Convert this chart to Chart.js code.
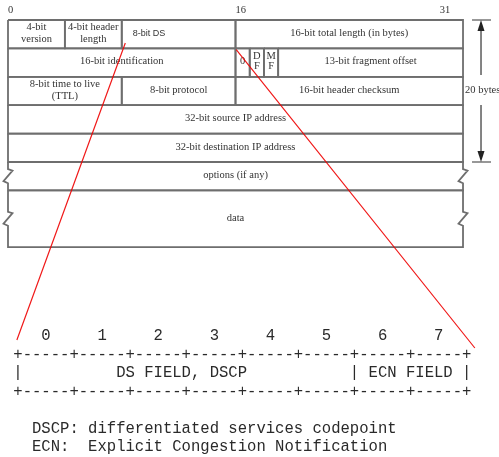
<!DOCTYPE html>
<html>
<head>
<meta charset="utf-8">
<title>IPv4 header and DS field</title>
<script src="https://cdn.jsdelivr.net/npm/chart.js@4.4.1/dist/chart.umd.min.js"></script>
<style>
  html, body { margin: 0; padding: 0; background: #fff; }
  #wrap { width: 499px; height: 457px; }
</style>
</head>
<body>
<div id="wrap"><canvas id="headerChart" width="499" height="457"></canvas></div>
<script>
// --- IPv4 header fields (row, first bit, end bit, rows tall, label) ---
const fieldRows   = [0, 0, 0, 0, 1, 1, 1, 1, 1, 2, 2, 2, 3, 4, 5, 6];
const fieldStart  = [0, 4, 8, 16, 0, 16, 17, 18, 19, 0, 8, 16, 0, 0, 0, 0];
const fieldEnd    = [4, 8, 16, 32, 16, 17, 18, 19, 32, 8, 16, 32, 32, 32, 32, 32];
const fieldHeight = [1, 1, 1, 1, 1, 1, 1, 1, 1, 1, 1, 1, 1, 1, 1, 2];
const fieldLabels = [
    '4-bit\nversion', '4-bit header\nlength', '8-bit DS', '16-bit total length (in bytes)',
    '16-bit identification', '0', 'D\nF', 'M\nF', '13-bit fragment offset',
    '8-bit time to live\n(TTL)', '8-bit protocol', '16-bit header checksum',
    '32-bit source IP address', '32-bit destination IP address',
    'options (if any)', 'data'
];
const brokenFields = ['options (if any)', 'data'];
const bitTicks = [0, 16, 31];
const fixedHeaderBytes = 20;
const bytesPerRow = 4;

// --- DS byte ---
const dsBits = [0, 1, 2, 3, 4, 5, 6, 7];
const dsFieldNames = ['DS FIELD, DSCP', 'ECN FIELD'];
const dsFieldStart = [0, 6];
const dsFieldEnd = [6, 8];
const dsNoteKeys = ['DSCP', 'ECN'];
const dsNoteTexts = ['differentiated services codepoint', 'Explicit Congestion Notification'];

// --- layout ---
const X_MIN = -0.5626, X_MAX = 34.531;   // header bits
const Y_MIN = -0.7042, Y_MAX = 15.387;   // header rows
const XD_MIN = -0.3207, XD_MAX = 8.570;  // DS byte bits
const W = 499, H = 457;
const bitPx = W / (X_MAX - X_MIN);
const rowPx = H / (Y_MAX - Y_MIN);
const DS_FIRST_LINE = 335;
const DS_LINE_STEP = 18.58;
const lineColor = '#6e6e6e';
const textColor = '#333';
const serif = '"Liberation Serif", "Times New Roman", serif';

function boxPath(x0, x1, y0, y1, broken) {
    const pts = [{x: x0, y: y0}, {x: x1, y: y0}];
    const c = (y0 + y1) / 2, dx = 4.5 / bitPx, dy = 7 / rowPx;
    if (broken) {
        pts.push({x: x1, y: c - dy}, {x: x1 + dx, y: c - 0.8 * dy},
                 {x: x1 - dx, y: c + 0.7 * dy}, {x: x1, y: c + dy});
    }
    pts.push({x: x1, y: y1}, {x: x0, y: y1});
    if (broken) {
        pts.push({x: x0, y: c + dy}, {x: x0 - dx, y: c + 0.7 * dy},
                 {x: x0 + dx, y: c - 0.8 * dy}, {x: x0, y: c - dy});
    }
    pts.push({x: x0, y: y0});
    return pts;
}

const datasets = fieldLabels.map((label, i) => ({
    label: label,
    data: boxPath(fieldStart[i], fieldEnd[i], fieldRows[i], fieldRows[i] + fieldHeight[i],
                  brokenFields.includes(label)),
    showLine: true,
    borderColor: lineColor,
    borderWidth: 1.8,
    borderJoinStyle: 'miter',
    pointRadius: 0,
    pointHoverRadius: 0,
    tension: 0,
    fill: false,
    clip: false
}));

function asciiByte() {
    const n = dsBits.length * 6 + 1;
    const nums = Array(n).fill(' ');
    const rule = Array(n).fill('-');
    dsBits.forEach(b => { nums[b * 6 + 3] = String(b); });
    for (let k = 0; k <= dsBits.length; k++) rule[k * 6] = '+';
    const mid = Array(n).fill(' ');
    mid[0] = '|';
    dsFieldNames.forEach((name, i) => {
        const a = dsFieldStart[i] * 6, b = dsFieldEnd[i] * 6;
        mid[b] = '|';
        const start = a + 1 + Math.floor((b - a - 1 - name.length) / 2);
        for (let j = 0; j < name.length; j++) mid[start + j] = name[j];
    });
    const keyW = Math.max(...dsNoteKeys.map(k => k.length)) + 2;
    const notes = dsNoteKeys.map((k, i) => '  ' + (k + ':').padEnd(keyW) + dsNoteTexts[i]);
    return [nums.join(''), rule.join(''), mid.join(''), rule.join(''), ''].concat(notes);
}

const diagramPlugin = {
    id: 'diagram',
    afterDatasetsDraw(chart) {
        const {ctx, scales: {x, y, xd}} = chart;
        ctx.save();
        ctx.fillStyle = textColor;

        // bit numbers over the header
        ctx.font = '10.5px ' + serif;
        ctx.textBaseline = 'middle';
        bitTicks.forEach((b, i) => {
            const last = i === bitTicks.length - 1;
            ctx.textAlign = last ? 'right' : 'left';
            ctx.fillText(String(b), x.getPixelForValue(b) + (last ? 1.5 : 0), 10);
        });

        // field labels
        fieldLabels.forEach((label, i) => {
            const top = y.getPixelForValue(fieldRows[i]);
            const bottom = y.getPixelForValue(fieldRows[i] + fieldHeight[i]);
            const left = x.getPixelForValue(fieldStart[i]);
            const right = x.getPixelForValue(fieldEnd[i]);
            const cy = (top + bottom) / 2 - 1;
            if (label === '8-bit DS') {
                ctx.font = '9px "Liberation Sans", Arial, sans-serif';
                ctx.textAlign = 'left';
                ctx.fillText(label, left + 11, cy);
                return;
            }
            ctx.font = '10.5px ' + serif;
            ctx.textAlign = 'center';
            const lines = label.split('\n');
            const lh = fieldEnd[i] - fieldStart[i] === 1 ? 10 : 12.5;
            lines.forEach((t, k) => {
                ctx.fillText(t, (left + right) / 2, cy + (k - (lines.length - 1) / 2) * lh);
            });
        });

        // 20 bytes arrow
        const ax = x.getPixelForValue(32) + 18;
        const aTop = y.getPixelForValue(0);
        const aBot = y.getPixelForValue(fixedHeaderBytes / bytesPerRow);
        const aMid = (aTop + aBot) / 2;
        ctx.strokeStyle = '#333';
        ctx.lineWidth = 1.2;
        ctx.beginPath();
        ctx.moveTo(ax - 9, aTop); ctx.lineTo(ax + 10, aTop);
        ctx.moveTo(ax - 9, aBot); ctx.lineTo(ax + 10, aBot);
        ctx.moveTo(ax, aTop + 8); ctx.lineTo(ax, aMid - 16);
        ctx.moveTo(ax, aMid + 14); ctx.lineTo(ax, aBot - 8);
        ctx.stroke();
        ctx.fillStyle = '#222';
        ctx.beginPath();
        ctx.moveTo(ax, aTop); ctx.lineTo(ax - 3.5, aTop + 11); ctx.lineTo(ax + 3.5, aTop + 11);
        ctx.closePath(); ctx.fill();
        ctx.beginPath();
        ctx.moveTo(ax, aBot); ctx.lineTo(ax - 3.5, aBot - 11); ctx.lineTo(ax + 3.5, aBot - 11);
        ctx.closePath(); ctx.fill();
        ctx.fillStyle = textColor;
        ctx.font = '10.5px ' + serif;
        ctx.textAlign = 'left';
        ctx.fillText(fixedHeaderBytes + ' bytes', ax - 16, aMid - 1);

        // DS byte drawn as ascii art
        const charW = (xd.getPixelForValue(dsBits.length) - xd.getPixelForValue(0)) / (dsBits.length * 6);
        ctx.font = (charW / 0.6).toFixed(2) + 'px "Liberation Mono", "Courier New", monospace';
        ctx.textAlign = 'left';
        ctx.textBaseline = 'alphabetic';
        ctx.fillStyle = '#2a2a2a';
        const x0 = xd.getPixelForValue(0) - charW / 2;
        asciiByte().forEach((line, k) => {
            ctx.fillText(line, x0, DS_FIRST_LINE + k * DS_LINE_STEP + 5);
        });

        // red connectors from the DS field down to the DS byte
        ctx.strokeStyle = 'rgba(238, 0, 0, 0.9)';
        ctx.lineWidth = 1.2;
        ctx.beginPath();
        ctx.moveTo(x.getPixelForValue(8.25), y.getPixelForValue(0.81));
        ctx.lineTo(xd.getPixelForValue(-0.02), 340);
        ctx.moveTo(x.getPixelForValue(16.05), y.getPixelForValue(1.04));
        ctx.lineTo(xd.getPixelForValue(8.14), 348);
        ctx.stroke();
        ctx.restore();
    }
};

new Chart(document.getElementById('headerChart'), {
    type: 'scatter',
    data: { datasets: datasets },
    options: {
        responsive: false,
        devicePixelRatio: 1,
        animation: false,
        events: [],
        layout: { padding: 0, autoPadding: false },
        plugins: { legend: { display: false }, tooltip: { enabled: false } },
        scales: {
            x: { type: 'linear', display: false, min: X_MIN, max: X_MAX },
            y: { type: 'linear', display: false, reverse: true, min: Y_MIN, max: Y_MAX },
            xd: { type: 'linear', axis: 'x', position: 'top', display: false, min: XD_MIN, max: XD_MAX }
        }
    },
    plugins: [diagramPlugin]
});
</script>
</body>
</html>
